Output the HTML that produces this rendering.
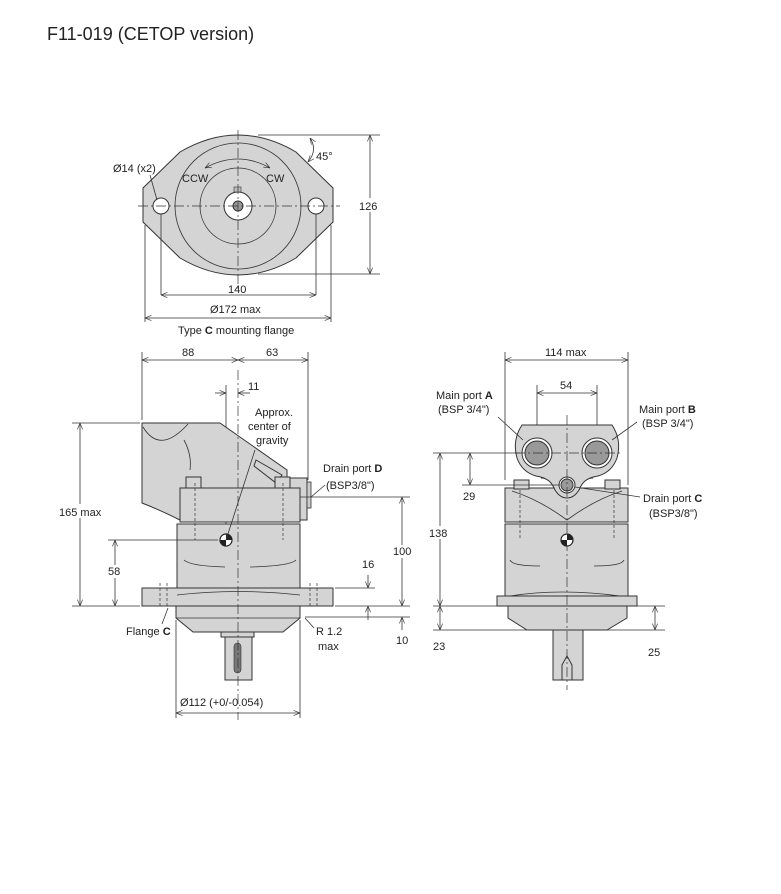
<!DOCTYPE html>
<html><head><meta charset="utf-8"><style>
html,body{margin:0;padding:0;background:#fff}
svg{display:block}
text{font-family:"Liberation Sans",sans-serif;font-size:11px;fill:#222}
.t{font-size:18px}
.b{font-weight:bold}
.s{fill:#d4d4d4;stroke:#333;stroke-width:1}
.l{stroke:#333;stroke-width:0.8;fill:none}
.c{stroke:#333;stroke-width:0.7;fill:none;stroke-dasharray:10 3 2 3}
.d{stroke:#333;stroke-width:0.7;fill:none;stroke-dasharray:3 2}
.bg{fill:#fff}
</style></head><body>
<svg width="781" height="894" viewBox="0 0 781 894" xmlns="http://www.w3.org/2000/svg">
<defs>
<marker id="a" viewBox="0 0 10 10" refX="10" refY="5" markerWidth="8" markerHeight="8" orient="auto-start-reverse"><path d="M0,1 L10,5 L0,9" fill="none" stroke="#333" stroke-width="1"/></marker>
</defs>
<text x="47" y="40" class="t">F11-019 (CETOP version)</text>

<!-- TOP VIEW -->
<path class="s" d="M143,188 L180,152 Q238,118 296,152 L333,188 L333,222 L296,258 Q238,292 180,258 L143,222 Z"/>
<circle class="l" cx="238" cy="206" r="63"/>
<circle class="l" cx="238" cy="206" r="38"/>
<circle cx="238" cy="206" r="14" fill="#fff" stroke="#333"/>
<circle cx="238" cy="206" r="5" fill="#999" stroke="#333"/>
<rect x="234" y="187" width="7" height="5" fill="#bbb" stroke="#333" stroke-width="0.6"/>
<circle cx="161" cy="206" r="8" fill="#fff" stroke="#333"/>
<circle cx="316" cy="206" r="8" fill="#fff" stroke="#333"/>
<line class="c" x1="138" y1="206" x2="340" y2="206"/>
<line class="c" x1="238" y1="130" x2="238" y2="290"/>
<path class="l" d="M205,168 Q238,150 270,168" marker-start="url(#a)" marker-end="url(#a)"/>
<text x="182" y="182">CCW</text><text x="266" y="182">CW</text>
<text x="113" y="172">Ø14 (x2)</text>
<line class="l" x1="150" y1="175" x2="157" y2="200"/>
<line class="l" x1="258" y1="135" x2="380" y2="135"/>
<line class="l" x1="258" y1="274" x2="380" y2="274"/>
<line class="l" x1="370" y1="135" x2="370" y2="274" marker-start="url(#a)" marker-end="url(#a)"/>
<rect class="bg" x="358" y="198" width="24" height="14"/><text x="359" y="210">126</text>
<path class="l" d="M310,138 Q318,150 308,162" marker-start="url(#a)" marker-end="url(#a)"/>
<text x="316" y="160">45°</text>
<line class="l" x1="161" y1="214" x2="161" y2="295"/>
<line class="l" x1="316" y1="214" x2="316" y2="295"/>
<line class="l" x1="161" y1="295" x2="316" y2="295" marker-start="url(#a)" marker-end="url(#a)"/>
<text x="228" y="293">140</text>
<line class="l" x1="145" y1="225" x2="145" y2="322"/>
<line class="l" x1="331" y1="225" x2="331" y2="322"/>
<line class="l" x1="145" y1="318" x2="331" y2="318" marker-start="url(#a)" marker-end="url(#a)"/>
<text x="210" y="313">Ø172 max</text>
<text x="178" y="334">Type <tspan class="b">C</tspan> mounting flange</text>

<!-- SIDE VIEW -->
<line class="l" x1="142" y1="352" x2="142" y2="420"/>
<line class="l" x1="308" y1="352" x2="308" y2="480"/>
<line class="l" x1="142" y1="360" x2="238" y2="360" marker-start="url(#a)" marker-end="url(#a)"/>
<line class="l" x1="238" y1="360" x2="308" y2="360" marker-start="url(#a)" marker-end="url(#a)"/>
<text x="182" y="356">88</text><text x="266" y="356">63</text>
<line class="l" x1="226" y1="385" x2="226" y2="540"/>
<line class="l" x1="215" y1="393" x2="226" y2="393" marker-end="url(#a)"/>
<line class="l" x1="250" y1="393" x2="238" y2="393" marker-end="url(#a)"/>
<text x="248" y="390">11</text>
<path class="s" d="M142,423 L220,423 L287,470 L287,490 L180,490 L180,520 Q160,510 142,503 Z"/>
<path class="l" d="M143,427 Q160,455 188,424"/>
<path class="l" d="M184,440 Q192,455 190,470"/>
<path class="s" d="M287,478 L307,478 L307,520 L287,520 Z"/>
<rect x="307" y="482" width="4" height="26" fill="#ccc" stroke="#333" stroke-width="0.8"/>
<path class="s" d="M256,460 L282,475 L276,483 L254,466 Z"/>
<rect class="s" x="180" y="488" width="120" height="34"/>
<rect class="s" x="177" y="524" width="123" height="65"/>
<path class="l" d="M184,560 Q190,566 225,567 M250,567 Q290,566 296,560"/>
<rect class="s" x="186" y="477" width="15" height="11"/>
<rect class="s" x="275" y="477" width="15" height="11"/>
<rect class="s" x="142" y="588" width="191" height="18"/>
<path class="l" d="M177,595 Q238,588 300,595"/>
<path class="d" d="M160,583 V608 M167,583 V608 M310,583 V608 M317,583 V608"/>
<path class="s" d="M176,606 L300,606 L300,618 L283,632 L193,632 L176,618 Z"/>
<line class="l" x1="176" y1="618" x2="300" y2="618"/>
<rect class="s" x="221" y="632" width="33" height="5"/>
<rect class="s" x="225" y="637" width="27" height="43"/>
<rect x="234" y="643" width="7" height="30" rx="3.5" fill="#777" stroke="#333" stroke-width="0.6"/>
<path class="d" d="M195,483 V540 M283,483 V540"/>
<line class="c" x1="238" y1="370" x2="238" y2="720"/>
<circle cx="226" cy="540" r="6" fill="#fff" stroke="#222" stroke-width="1.2"/>
<path d="M226,534 A6,6 0 0 1 232,540 L226,540 Z M226,546 A6,6 0 0 1 220,540 L226,540 Z" fill="#222"/>
<line class="l" x1="226" y1="540" x2="255" y2="450"/>
<text x="255" y="416">Approx.</text><text x="248" y="430">center of</text><text x="256" y="444">gravity</text>
<text x="323" y="472">Drain port <tspan class="b">D</tspan></text><text x="326" y="489">(BSP3/8")</text>
<line class="l" x1="311" y1="497" x2="325" y2="485"/>
<line class="l" x1="72" y1="423" x2="140" y2="423"/>
<line class="l" x1="72" y1="606" x2="140" y2="606"/>
<line class="l" x1="80" y1="423" x2="80" y2="606" marker-start="url(#a)" marker-end="url(#a)"/>
<rect class="bg" x="56" y="504" width="50" height="14"/><text x="59" y="516">165 max</text>
<line class="l" x1="108" y1="540" x2="218" y2="540"/>
<line class="l" x1="115" y1="540" x2="115" y2="606" marker-start="url(#a)" marker-end="url(#a)"/>
<rect class="bg" x="106" y="565" width="18" height="13"/><text x="108" y="575">58</text>
<line class="l" x1="300" y1="497" x2="410" y2="497"/>
<line class="l" x1="335" y1="606" x2="410" y2="606"/>
<line class="l" x1="305" y1="617" x2="410" y2="617"/>
<line class="l" x1="335" y1="588" x2="375" y2="588"/>
<line class="l" x1="402" y1="497" x2="402" y2="606" marker-start="url(#a)" marker-end="url(#a)"/>
<rect class="bg" x="392" y="545" width="22" height="13"/><text x="393" y="555">100</text>
<line class="l" x1="402" y1="630" x2="402" y2="617" marker-end="url(#a)"/>
<text x="396" y="644">10</text>
<line class="l" x1="368" y1="575" x2="368" y2="588" marker-end="url(#a)"/>
<line class="l" x1="368" y1="620" x2="368" y2="606" marker-end="url(#a)"/>
<text x="362" y="568">16</text>
<text x="126" y="635">Flange <tspan class="b">C</tspan></text>
<line class="l" x1="162" y1="624" x2="168" y2="608"/>
<text x="316" y="635">R 1.2</text><text x="318" y="650">max</text>
<line class="l" x1="314" y1="628" x2="305" y2="618"/>
<line class="l" x1="176" y1="620" x2="176" y2="718"/>
<line class="l" x1="300" y1="620" x2="300" y2="718"/>
<line class="l" x1="176" y1="713" x2="300" y2="713" marker-start="url(#a)" marker-end="url(#a)"/>
<text x="180" y="706">Ø112 (+0/-0.054)</text>

<!-- FRONT VIEW -->
<line class="l" x1="505" y1="352" x2="505" y2="480"/>
<line class="l" x1="628" y1="352" x2="628" y2="485"/>
<line class="l" x1="505" y1="360" x2="628" y2="360" marker-start="url(#a)" marker-end="url(#a)"/>
<text x="545" y="356">114 max</text>
<line class="l" x1="537" y1="385" x2="537" y2="440"/>
<line class="l" x1="597" y1="385" x2="597" y2="440"/>
<line class="l" x1="537" y1="393" x2="597" y2="393" marker-start="url(#a)" marker-end="url(#a)"/>
<text x="560" y="389">54</text>
<path class="s" d="M522,425 L612,425 Q622,440 617,458 Q612,472 598,476 Q585,478 580,486 Q575,498 567,498 Q559,498 554,486 Q549,478 536,476 Q522,472 517,458 Q512,440 522,425 Z"/>
<rect class="s" x="505" y="488" width="123" height="34"/>
<path class="s" d="M541,478 Q550,478 555,490 Q560,498 567,498 Q574,498 579,490 Q584,478 593,478"/>
<path class="l" d="M512,491 Q540,500 567,520 Q594,500 622,491"/>
<circle cx="537" cy="453" r="15" fill="#fff" stroke="#333"/><circle cx="537" cy="453" r="12" fill="#999" stroke="#333"/>
<circle cx="597" cy="453" r="15" fill="#fff" stroke="#333"/><circle cx="597" cy="453" r="12" fill="#999" stroke="#333"/>
<circle cx="567" cy="485" r="8" fill="#fff" stroke="#333"/><circle cx="567" cy="485" r="6" fill="#999" stroke="#333"/>
<rect class="s" x="514" y="480" width="15" height="9"/>
<rect class="s" x="605" y="480" width="15" height="9"/>
<rect class="s" x="505" y="524" width="123" height="72"/>
<path class="l" d="M510,560 Q512,566 540,566 M594,566 Q622,566 624,560"/>
<path class="s" d="M497,596 L637,596 L637,606 L497,606 Z"/>
<path class="l" d="M510,596 Q560,588 620,596"/>
<path class="s" d="M508,606 L627,606 L627,618 L607,630 L527,630 L508,618 Z"/>
<rect class="s" x="553" y="630" width="30" height="50"/>
<path class="d" d="M520,490 V540 M614,490 V540"/>
<path class="s" d="M562,665 L567,656 L572,665 L572,680 L562,680 Z"/>
<line class="c" x1="567" y1="415" x2="567" y2="690"/>
<line class="c" x1="515" y1="453" x2="620" y2="453"/>
<circle cx="567" cy="540" r="6" fill="#fff" stroke="#222" stroke-width="1.2"/>
<path d="M567,534 A6,6 0 0 1 573,540 L567,540 Z M567,546 A6,6 0 0 1 561,540 L567,540 Z" fill="#222"/>
<text x="436" y="399">Main port <tspan class="b">A</tspan></text><text x="438" y="413">(BSP 3/4")</text>
<line class="l" x1="498" y1="417" x2="523" y2="440"/>
<text x="639" y="413">Main port <tspan class="b">B</tspan></text><text x="642" y="427">(BSP 3/4")</text>
<line class="l" x1="637" y1="422" x2="612" y2="440"/>
<text x="643" y="502">Drain port <tspan class="b">C</tspan></text><text x="649" y="517">(BSP3/8")</text>
<line class="l" x1="575" y1="487" x2="640" y2="497"/>
<line class="l" x1="433" y1="453" x2="520" y2="453"/>
<line class="l" x1="462" y1="485" x2="560" y2="485"/>
<line class="l" x1="433" y1="606" x2="665" y2="606"/>
<line class="l" x1="433" y1="630" x2="530" y2="630"/>
<line class="l" x1="600" y1="630" x2="665" y2="630"/>
<line class="l" x1="440" y1="453" x2="440" y2="606" marker-start="url(#a)" marker-end="url(#a)"/>
<rect class="bg" x="428" y="526" width="24" height="13"/><text x="429" y="537">138</text>
<line class="l" x1="470" y1="453" x2="470" y2="485" marker-start="url(#a)" marker-end="url(#a)"/>
<text x="463" y="500">29</text>
<line class="l" x1="440" y1="606" x2="440" y2="630" marker-start="url(#a)" marker-end="url(#a)"/>
<text x="433" y="650">23</text>
<line class="l" x1="655" y1="606" x2="655" y2="630" marker-start="url(#a)" marker-end="url(#a)"/>
<text x="648" y="656">25</text>
</svg>
</body></html>
